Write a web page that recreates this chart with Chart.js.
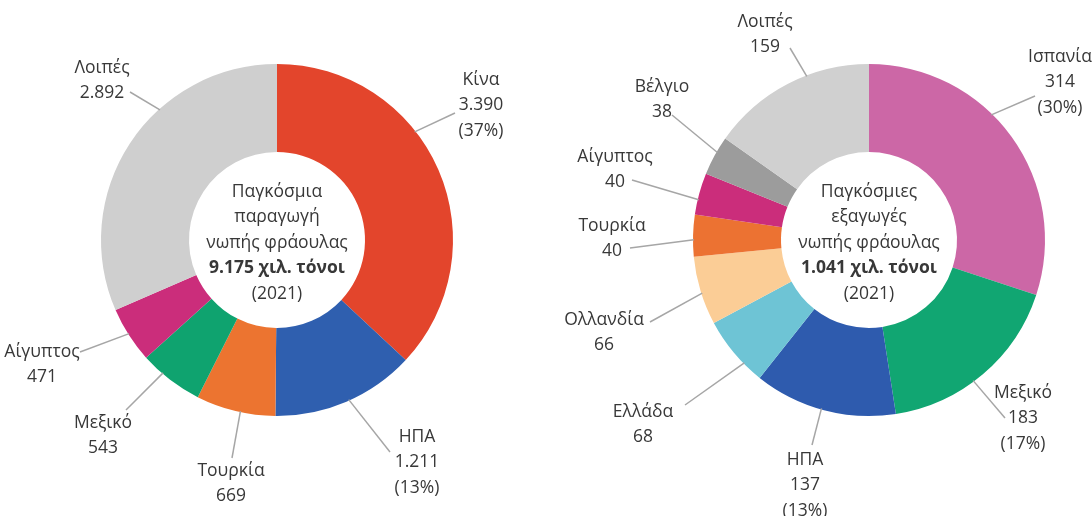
<!DOCTYPE html>
<html>
<head>
<meta charset="utf-8">
<script src="https://cdn.jsdelivr.net/npm/chart.js@4/dist/chart.umd.min.js"></script>
<style>
  html, body { margin: 0; padding: 0; background: #fff; }
  .wrap { position: absolute; top: 0; width: 546px; height: 516px; }
  #left { left: 0; }
  #right { left: 546px; }
</style>
</head>
<body>
<div class="wrap" id="left"><canvas id="chart-production" width="546" height="516"></canvas></div>
<div class="wrap" id="right"><canvas id="chart-exports" width="546" height="516"></canvas></div>
<script>
// Παγκόσμια παραγωγή (χιλ. τόνοι, 2021)
const prodLabels = ['Κίνα', 'ΗΠΑ', 'Τουρκία', 'Μεξικό', 'Αίγυπτος', 'Λοιπές'];
const prodValues = [3390, 1211, 669, 543, 471, 2892];
const prodShares = [37, 13, null, null, null, null];
const prodTotal = 9175;

// Παγκόσμιες εξαγωγές (χιλ. τόνοι, 2021)
const expLabels = ['Ισπανία', 'Μεξικό', 'ΗΠΑ', 'Ελλάδα', 'Ολλανδία', 'Τουρκία', 'Αίγυπτος', 'Βέλγιο', 'Λοιπές'];
const expValues = [314, 183, 137, 68, 66, 40, 40, 38, 159];
const expShares = [30, 17, 13, null, null, null, null, null, null];
const expTotal = 1041;

const prodColors = ['#e3452c', '#2f5faf', '#ec7430', '#0fa36f', '#cb2d7b', '#cfcfcf'];
const expColors = ['#cc67a6', '#11a672', '#2e5bae', '#6ec4d5', '#fbcd96', '#ec7232', '#cb2d7b', '#9c9c9c', '#d0d0d0'];

// label placement relative to the ring centre: text (dx, dy), leader end (lx, ly), t = where on the arc the leader starts
const prodLayout = [
    { dx: 204, dy: -160, lx: 178, ly: -127, t: 0.39 },
    { dx: 140, dy: 197, lx: 113, ly: 212, t: 0.48 },
    { dx: -46, dy: 231, lx: -45, ly: 218, t: 0.44 },
    { dx: -174, dy: 183, lx: -151, ly: 170, t: 0.65 },
    { dx: -235, dy: 112, lx: -197, ly: 112, t: 0.52 },
    { dx: -175, dy: -172, lx: -147, ly: -148, t: 0.63 }
];
const expLayout = [
    { dx: 191, dy: -183, lx: 166, ly: -144, t: 0.41 },
    { dx: 154, dy: 153, lx: 136, ly: 178, t: 0.56 },
    { dx: -64, dy: 220, lx: -57, ly: 205, t: 0.52 },
    { dx: -226, dy: 172, lx: -184, ly: 165, t: 0.3 },
    { dx: -265, dy: 80, lx: -219, ly: 82, t: 0.46 },
    { dx: -257, dy: -14, lx: -239, ly: 8, t: 0.4 },
    { dx: -254, dy: -83, lx: -237, ly: -60, t: 0.36 },
    { dx: -207, dy: -153, lx: -197, ly: -125, t: 0.6 },
    { dx: -104, dy: -218, lx: -79, ly: -192, t: 0.62 }
];

const FONT = '"Open Sans", "Noto Sans", sans-serif';
const FONT_SIZE = '17.5px ';
const TEXT_COLOR = '#383838';
const LINE_H = 25.5;

function fmt(v) {
    return String(v).replace(/\B(?=(\d{3})+(?!\d))/g, '.');
}

const ringLabels = {
    id: 'ringLabels',
    afterDraw(chart, args, opts) {
        const ctx = chart.ctx;
        const meta = chart.getDatasetMeta(0);
        const values = chart.data.datasets[0].data;
        const cx = meta.data[0].x;
        const cy = meta.data[0].y;

        ctx.save();
        ctx.textAlign = 'center';
        ctx.textBaseline = 'middle';
        ctx.fillStyle = TEXT_COLOR;
        ctx.strokeStyle = '#a6a6a6';
        ctx.lineWidth = 1.5;

        meta.data.forEach((arc, i) => {
            const p = opts.layout[i];
            const { startAngle, endAngle, outerRadius } = arc.getProps(['startAngle', 'endAngle', 'outerRadius'], true);
            const a = startAngle + p.t * (endAngle - startAngle);
            ctx.beginPath();
            ctx.moveTo(cx + Math.cos(a) * (outerRadius - 1), cy + Math.sin(a) * (outerRadius - 1));
            ctx.lineTo(cx + p.lx, cy + p.ly);
            ctx.stroke();

            const lines = [chart.data.labels[i], fmt(values[i])];
            if (opts.shares[i] != null) lines.push('(' + opts.shares[i] + '%)');
            ctx.font = FONT_SIZE + FONT;
            lines.forEach((s, k) => ctx.fillText(s, cx + p.dx, cy + p.dy + k * LINE_H));
        });

        opts.center.forEach((s, k) => {
            ctx.font = (k === 3 ? 'bold ' : '') + FONT_SIZE + FONT;
            ctx.fillText(s, cx, cy - 48 + k * LINE_H);
        });
        ctx.restore();
    }
};

function makeDoughnut(id, labels, values, colors, padding, labelOpts) {
    return new Chart(document.getElementById(id), {
        type: 'doughnut',
        data: {
            labels,
            datasets: [{
                data: values,
                backgroundColor: colors,
                borderWidth: 0
            }]
        },
        options: {
            responsive: false,
            animation: false,
            cutout: '50%',
            layout: { padding },
            plugins: {
                legend: { display: false },
                tooltip: { enabled: false },
                ringLabels: labelOpts
            }
        },
        plugins: [ringLabels]
    });
}

makeDoughnut('chart-production', prodLabels, prodValues, prodColors,
    { left: 101, right: 93, top: 64, bottom: 100 },
    {
        layout: prodLayout,
        shares: prodShares,
        center: ['Παγκόσμια', 'παραγωγή', 'νωπής φράουλας', fmt(prodTotal) + ' χιλ. τόνοι', '(2021)']
    });

makeDoughnut('chart-exports', expLabels, expValues, expColors,
    { left: 147, right: 47, top: 64, bottom: 100 },
    {
        layout: expLayout,
        shares: expShares,
        center: ['Παγκόσμιες', 'εξαγωγές', 'νωπής φράουλας', fmt(expTotal) + ' χιλ. τόνοι', '(2021)']
    });
</script>
</body>
</html>
